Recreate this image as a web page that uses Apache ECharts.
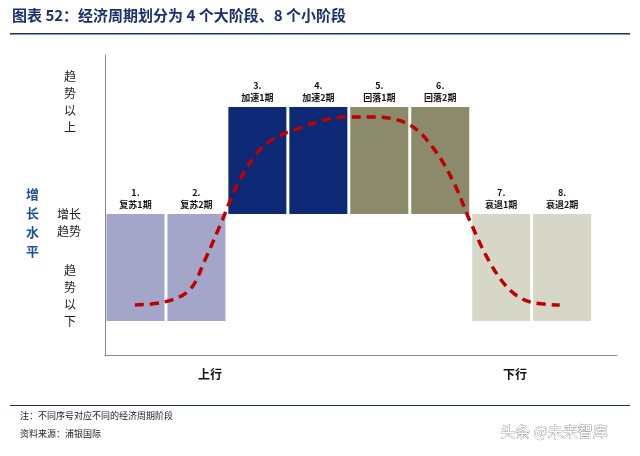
<!DOCTYPE html><html><head><meta charset="utf-8"><script src="https://cdn.jsdelivr.net/npm/echarts@6/dist/echarts.min.js"></script></head><body style="margin:0"><div id="c" style="width:640px;height:456px"></div><script>
const stageLabels=['1.\n复苏1期','2.\n复苏2期','3.\n加速1期','4.\n加速2期','5.\n回落1期','6.\n回落2期','7.\n衰退1期','8.\n衰退2期'];
const barBase=[1.13,1.13,4.7,4.7,4.7,4.7,1.13,1.13];
const barTop=[4.7,4.7,8.27,8.27,8.27,8.27,4.7,4.7];
const barColors=['#a4a6c9','#a4a6c9','#0d2874','#0d2874','#8b8b6b','#8b8b6b','#d7d7c8','#d7d7c8'];
const curveX=[0.49,0.98,1.39,1.64,1.89,2.21,2.62,3.2,3.93,4.43,5.0,5.41,5.74,5.98,6.31,6.64,6.97,7.46];
const curveY=[1.67,1.77,2.17,3.17,4.33,5.83,7.0,7.57,7.93,7.93,7.67,6.83,5.67,4.5,3.1,2.17,1.77,1.67];
const c=echarts.init(document.getElementById('c'));
const F='"Noto Sans CJK SC"';
c.setOption({animation:false,
grid:{left:105,top:55,width:512,height:300},
xAxis:{type:'value',min:0,max:8.4,axisLine:{show:true,lineStyle:{color:'#888'}},axisTick:{show:false},axisLabel:{show:false},splitLine:{show:false}},
yAxis:{type:'value',min:0,max:10,axisLine:{show:true,lineStyle:{color:'#888'}},axisTick:{show:false},axisLabel:{show:false},splitLine:{show:false}},
series:[
{type:'custom',data:barBase.map((b,i)=>[i,b,barTop[i]]),encode:{x:0,y:[1,2]},
 renderItem:(params,api)=>{const i=api.value(0);const p0=api.coord([i+0.5,api.value(1)]);const p1=api.coord([i+0.5,api.value(2)]);
  return {type:'group',children:[
   {type:'rect',shape:{x:p0[0]-29,y:p1[1],width:58,height:p0[1]-p1[1]},style:{fill:barColors[i]}},
   {type:'text',style:{text:stageLabels[i],x:p0[0],y:p1[1]-3,align:'center',verticalAlign:'bottom',font:'bold 9px '+F,fill:'#111',lineHeight:12}}]};}},
{type:'line',smooth:0.35,symbol:'none',data:curveX.map((x,i)=>[x,curveY[i]]),lineStyle:{color:'#c00000',width:3.5,type:[9,6]},z:5}
],
graphic:[
{type:'text',left:12,top:8,style:{text:'图表 52：经济周期划分为 4 个大阶段、8 个小阶段',font:'bold 15px '+F,fill:'#1a2f6e'}},
{type:'rect',shape:{x:10,y:33,width:620,height:1.5},style:{fill:'#1a2f6e'}},
{type:'text',left:64,top:68,style:{text:'趋\n势\n以\n上',font:'12px '+F,fill:'#222',lineHeight:17}},
{type:'text',left:57,top:206,style:{text:'增长\n趋势',font:'12px '+F,fill:'#222',lineHeight:17}},
{type:'text',left:64,top:262,style:{text:'趋\n势\n以\n下',font:'12px '+F,fill:'#222',lineHeight:17}},
{type:'text',left:26,top:185,style:{text:'增\n长\n水\n平',font:'bold 13px '+F,fill:'#1f4e9a',lineHeight:19}},
{type:'text',left:198,top:368,style:{text:'上行',font:'bold 12px '+F,fill:'#111'}},
{type:'text',left:503,top:368,style:{text:'下行',font:'bold 12px '+F,fill:'#111'}},
{type:'rect',shape:{x:10,y:405,width:620,height:1},style:{fill:'#1a2f6e'}},
{type:'text',left:20,top:411,style:{text:'注：不同序号对应不同的经济周期阶段',font:'9px '+F,fill:'#222'}},
{type:'text',left:20,top:429,style:{text:'资料来源：浦银国际',font:'9px '+F,fill:'#222'}},
{type:'text',left:500,top:424,style:{text:'头条 @未来智库',font:'15px '+F,fill:'#fff',stroke:'#555',lineWidth:0.5}}
]});
</script></body></html>
